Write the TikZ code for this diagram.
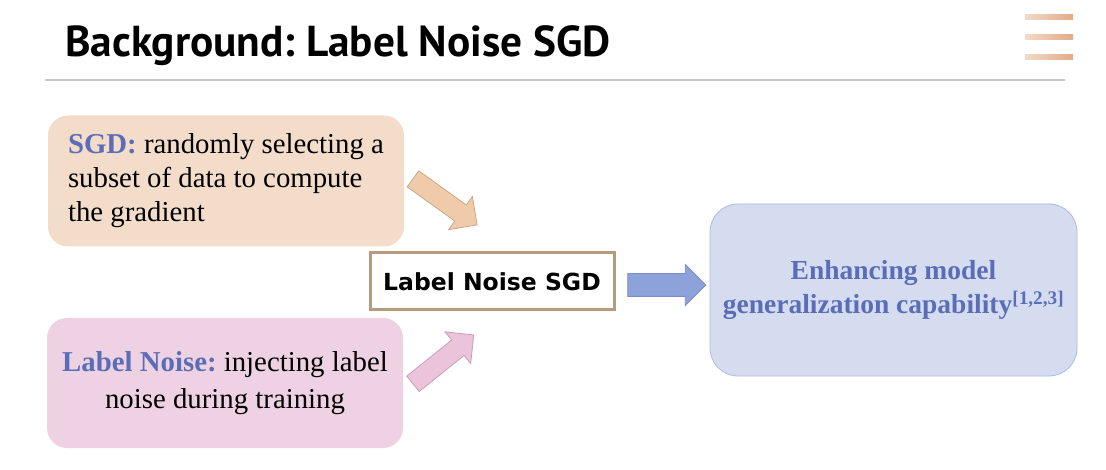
\documentclass[tikz,border=0pt]{standalone}
\usepackage{fontspec}
\setmainfont{Liberation Serif}
\newfontfamily\titlefont{PT Sans}
\newfontfamily\boxfont{DejaVu Sans}
\usetikzlibrary{shapes.arrows}
\frenchspacing
\definecolor{peachbox}{HTML}{F3DDCA}
\definecolor{pinkbox}{HTML}{EED2E4}
\definecolor{bluebox}{HTML}{D6DCF0}
\definecolor{blueedge}{HTML}{AEBAE3}
\definecolor{bluetext}{HTML}{5A6EB8}
\definecolor{peacharrow}{HTML}{EFCBAA}
\definecolor{peachedge}{HTML}{C9A98C}
\definecolor{pinkarrow}{HTML}{EBC3DB}
\definecolor{pinkedge}{HTML}{C79FB7}
\definecolor{bluearrow}{HTML}{8EA2DA}
\definecolor{blueaedge}{HTML}{7A8DC6}
\definecolor{brownedge}{HTML}{B89A80}
\definecolor{stripeL}{HTML}{F3DAC8}
\definecolor{stripeR}{HTML}{E2AA88}
\tikzset{
  sidebox/.style={rounded corners=20pt, inner sep=0pt, minimum width=356pt, minimum height=131pt, font=\fontsize{28.8}{34}\selectfont},
  blockarrow/.style={single arrow, single arrow head extend=10.5pt, single arrow head indent=0pt, minimum width=40pt, inner xsep=0pt, inner ysep=9.5pt, line width=0.8pt},
}
\begin{document}
\begin{tikzpicture}[x=1pt,y=-1pt]
\useasboundingbox (0,0) rectangle (1106,470);
\fill[white] (0,0) rectangle (1106,470);
% title
\node[anchor=base west, inner sep=0pt, font=\titlefont\bfseries\fontsize{43.3}{46}\selectfont] (title) at (65,57) {Background: Label Noise SGD};
\coordinate (rl) at (45,80);
\coordinate (rr) at (1065,80);
\draw[color=black!22, line width=1.2pt] (rl) -- (rr);
% menu stripes
\foreach \yy in {17,37,57}{
  \shade[left color=stripeL, right color=stripeR] (1025,\yy-2.5) rectangle (1073,\yy+2.5);
}
% boxes
\node[sidebox, fill=peachbox, align=left] (sgd) at (226,181)
  {\textcolor{bluetext}{\textbf{SGD:}} randomly selecting a\\subset of data to compute\\the gradient};
\node[sidebox, fill=pinkbox, align=center, minimum height=130pt, font=\fontsize{28.8}{37}\selectfont] (noise) at (225,383)
  {\textcolor{bluetext}{\textbf{Label Noise:}} injecting label\\noise during training};
\node[draw=brownedge, line width=3pt, fill=white, minimum width=244pt, minimum height=57pt, inner sep=0pt,
  font=\boxfont\bfseries\fontsize{23.5}{28}\selectfont] (lns) at (492,281.5) {Label Noise SGD};
\node[draw=blueedge, line width=0.8pt, fill=bluebox, rounded corners=28pt, minimum width=367pt, minimum height=172pt,
  inner sep=0pt, align=center, text=bluetext, font=\bfseries\fontsize{27.5}{34}\selectfont] (gen) at (893.5,290)
  {Enhancing model\\generalization capability\textsuperscript{[1,2,3]}};
% block arrows
\coordinate (a1t) at (409,176); \coordinate (a1h) at (473,222);
\coordinate (a2t) at (409,387); \coordinate (a2h) at (470,338);
\coordinate (a3t) at (622,285); \coordinate (a3h) at (700,285);
\node[blockarrow, fill=peacharrow, draw=peachedge, minimum height=79pt, rotate=-35.7] (arr1) at (441,199) {};
\node[blockarrow, fill=pinkarrow, draw=pinkedge, minimum height=78pt, rotate=38.8] (arr2) at (439.5,362.5) {};
\node[blockarrow, fill=bluearrow, draw=blueaedge, minimum height=78pt, inner ysep=11pt, single arrow head extend=9pt] (arr3) at (661,285) {};
\end{tikzpicture}
\end{document}
